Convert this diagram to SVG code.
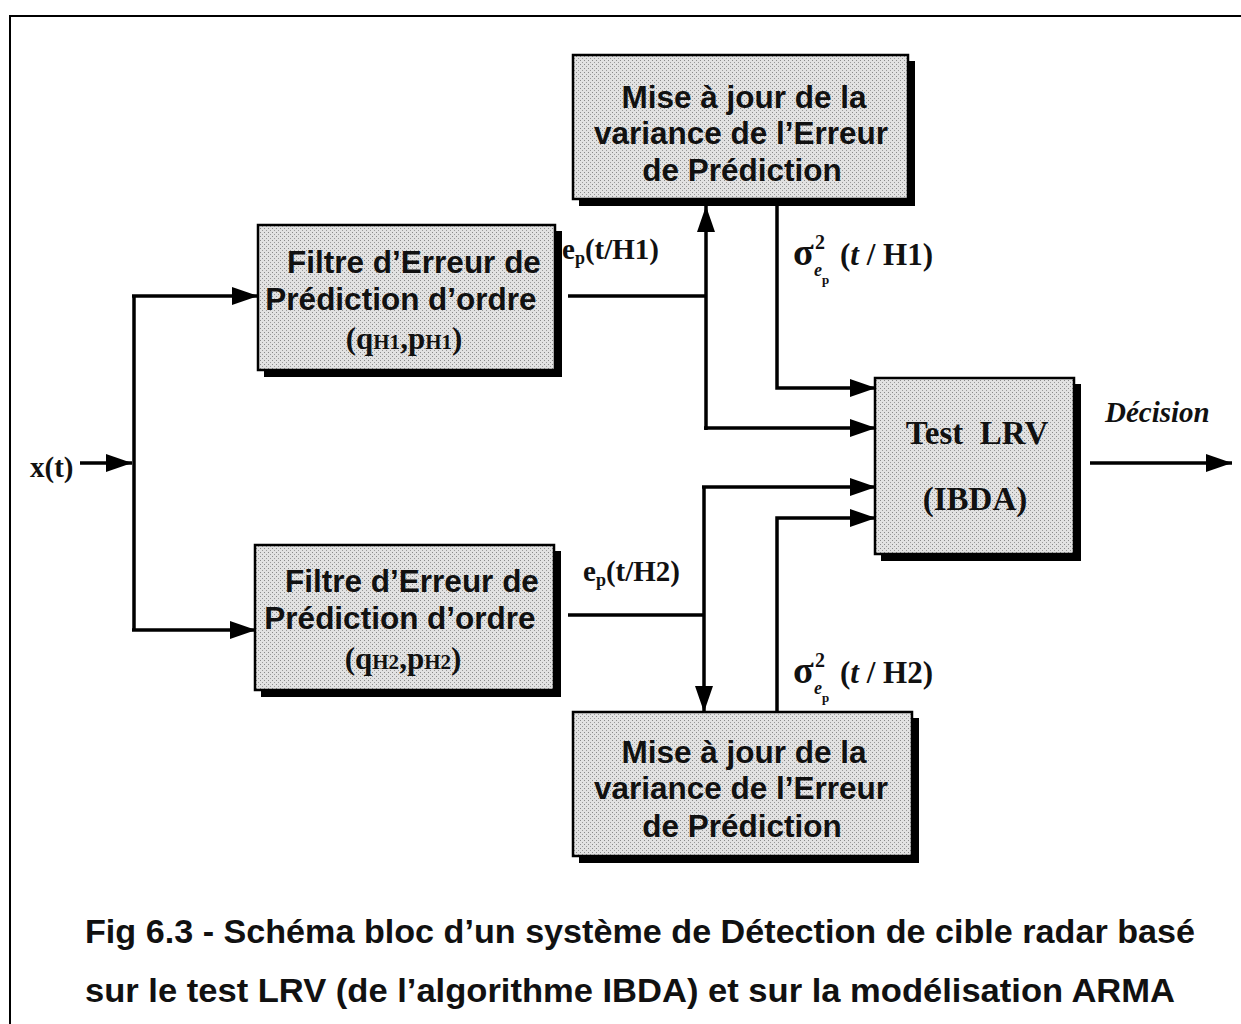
<svg xmlns="http://www.w3.org/2000/svg" width="1241" height="1024" viewBox="0 0 1241 1024">
<style>
.box{fill:url(#stip);stroke:#000;stroke-width:2.5}
.shadow{fill:#000}
.bt{font-family:"Liberation Sans",Arial,sans-serif;font-weight:bold;font-size:31.5px;fill:#111;text-anchor:middle}
.st{font-family:"Liberation Serif","Times New Roman",serif;font-weight:bold;fill:#111}
.conn{fill:none;stroke:#000;stroke-width:3.5}
.cap{font-family:"Liberation Sans",Arial,sans-serif;font-weight:bold;font-size:33px;fill:#111}
</style>
<defs>
<pattern id="stip" width="4" height="4" patternUnits="userSpaceOnUse">
<rect width="4" height="4" fill="#e2e2e2"/>
<rect x="0" y="0" width="1" height="1" fill="#8a8a8a"/>
<rect x="2" y="2" width="1" height="1" fill="#9a9a9a"/>
</pattern>
<marker id="ah" markerUnits="userSpaceOnUse" markerWidth="28" markerHeight="20" refX="26" refY="10" orient="auto">
<path d="M0,1 L26,10 L0,19 Z" fill="#000"/>
</marker>
</defs>
<rect width="1241" height="1024" fill="#fff"/>
<g id="frame">
<path d="M10,1024 V16 H1241" fill="none" stroke="#000" stroke-width="2"/>
</g>

<g id="connectors">
<line class="conn" x1="80" y1="463" x2="132" y2="463" marker-end="url(#ah)"/>
<line class="conn" x1="134" y1="296" x2="134" y2="630"/>
<line class="conn" x1="132" y1="296" x2="258" y2="296" marker-end="url(#ah)"/>
<line class="conn" x1="132" y1="630" x2="256" y2="630" marker-end="url(#ah)"/>
<line class="conn" x1="568" y1="296" x2="706" y2="296"/>
<line class="conn" x1="706" y1="430" x2="706" y2="206" marker-end="url(#ah)"/>
<line class="conn" x1="704" y1="428" x2="876" y2="428" marker-end="url(#ah)"/>
<polyline class="conn" points="777,206 777,388 876,388" marker-end="url(#ah)"/>
<line class="conn" x1="568" y1="615" x2="704" y2="615"/>
<line class="conn" x1="704" y1="486" x2="704" y2="712" marker-end="url(#ah)"/>
<line class="conn" x1="702" y1="487" x2="876" y2="487" marker-end="url(#ah)"/>
<polyline class="conn" points="777,712 777,518 876,518" marker-end="url(#ah)"/>
<line class="conn" x1="1090" y1="463" x2="1232" y2="463" marker-end="url(#ah)"/>
</g>

<g id="maj1">
<rect class="shadow" x="579" y="61" width="336" height="145"/>
<rect class="box" x="573" y="55" width="335" height="144"/>
<text class="bt" x="744" y="108">Mise à jour de la</text>
<text class="bt" x="741" y="144">variance de l’Erreur</text>
<text class="bt" x="742" y="181">de Prédiction</text>
</g>

<g id="filtre1">
<rect class="shadow" x="264" y="231" width="298" height="146"/>
<rect class="box" x="258" y="225" width="297" height="145"/>
<text class="bt" x="414" y="273">Filtre d’Erreur de</text>
<text class="bt" x="401" y="310">Prédiction d’ordre</text>
<text class="st" x="404" y="349" font-size="31" text-anchor="middle">(q<tspan font-size="21">H1</tspan>,p<tspan font-size="21">H1</tspan>)</text>
</g>

<g id="filtre2">
<rect class="shadow" x="261" y="551" width="300" height="146"/>
<rect class="box" x="255" y="545" width="299" height="145"/>
<text class="bt" x="412" y="592">Filtre d’Erreur de</text>
<text class="bt" x="400" y="629">Prédiction d’ordre</text>
<text class="st" x="403" y="669" font-size="31" text-anchor="middle">(q<tspan font-size="21">H2</tspan>,p<tspan font-size="21">H2</tspan>)</text>
</g>

<g id="test">
<rect class="shadow" x="881" y="384" width="200" height="177"/>
<rect class="box" x="875" y="378" width="199" height="176"/>
<text class="st" x="977" y="444" font-size="33" text-anchor="middle" xml:space="preserve">Test  LRV</text>
<text class="st" x="975" y="510" font-size="33" text-anchor="middle">(IBDA)</text>
</g>

<g id="maj2">
<rect class="shadow" x="579" y="718" width="340" height="145"/>
<rect class="box" x="573" y="712" width="339" height="144"/>
<text class="bt" x="744" y="763">Mise à jour de la</text>
<text class="bt" x="741" y="799">variance de l’Erreur</text>
<text class="bt" x="742" y="837">de Prédiction</text>
</g>

<g id="labels">
<text class="st" x="30" y="477" font-size="29">x(t)</text>
<text class="st" x="562" y="259" font-size="29">e<tspan font-size="18" dy="5">p</tspan><tspan dy="-5">(t/H1)</tspan></text>
<text class="st" x="583" y="581" font-size="29">e<tspan font-size="18" dy="5">p</tspan><tspan dy="-5">(t/H2)</tspan></text>
<g id="sig1">
<text class="st" x="793" y="265" font-size="38">σ</text>
<text class="st" x="815" y="249" font-size="20">2</text>
<text class="st" x="814" y="276" font-size="18" font-style="italic">e</text>
<text class="st" x="822" y="284" font-size="13">p</text>
<text class="st" x="840" y="265" font-size="31">(<tspan font-style="italic">t</tspan> / H1)</text>
</g>
<g id="sig2">
<text class="st" x="793" y="683" font-size="38">σ</text>
<text class="st" x="815" y="667" font-size="20">2</text>
<text class="st" x="814" y="694" font-size="18" font-style="italic">e</text>
<text class="st" x="822" y="702" font-size="13">p</text>
<text class="st" x="840" y="683" font-size="31">(<tspan font-style="italic">t</tspan> / H2)</text>
</g>
<text class="st" x="1105" y="422" font-size="29" font-style="italic">Décision</text>
</g>

<g id="caption">
<text class="cap" x="85" y="943" textLength="1110" lengthAdjust="spacingAndGlyphs">Fig 6.3 - Schéma bloc d’un système de Détection de cible radar basé</text>
<text class="cap" x="85" y="1002" textLength="1090" lengthAdjust="spacingAndGlyphs">sur le test LRV (de l’algorithme IBDA) et sur la modélisation ARMA</text>
</g>
</svg>
